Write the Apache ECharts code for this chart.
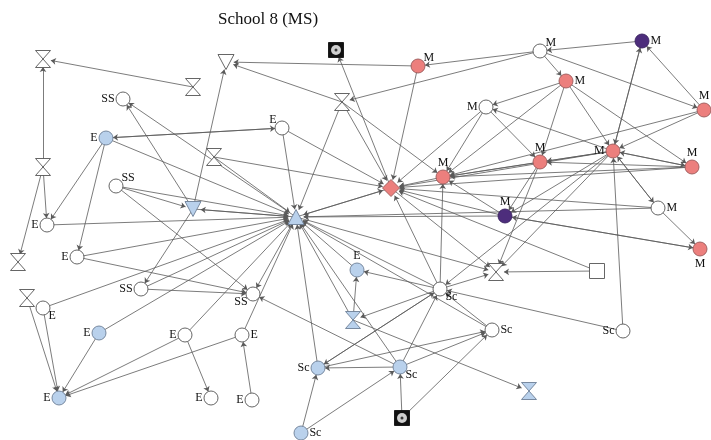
<!DOCTYPE html>
<html>
<head>
<meta charset="utf-8">
<script src="https://cdn.jsdelivr.net/npm/echarts@6/dist/echarts.min.js"></script>
<style>html,body{margin:0;padding:0;background:#fff}#c{width:711px;height:440px}</style>
</head>
<body>
<div id="c"></div>
<script>
// ---- data ----
const titleText = 'School 8 (MS)';
// node ids 1..52
const nodeX = [43,193,226,336,418,540,642,566,486,704,342,123,106,282,43,214,116,193,296,391,443,540,613,692,505,658,47,77,18,700,357,496,597,141,253,440,27,43,353,99,185,242,492,623,318,400,529,59,211,252,402,301];
const nodeY = [59,87,62,50,66,51,41,81,107,110,102,99,138,128,167,157,186,209,217,188,177,162,151,167,216,208,225,257,262,249,270,272,271,289,294,289,298,308,320,333,335,335,330,331,368,367,391,398,398,400,418,433];
const nodeLabel = ['','','','','M','M','M','M','M','M','','SS','E','E','','','SS','','','','M','M','M','M','M','M','E','E','','M','E','','','SS','SS','Sc','','E','','E','E','E','Sc','Sc','Sc','Sc','','E','E','E','','Sc'];
// shape kind: c=circle, h=hourglass, td=triangle down, tu=triangle up, d=diamond, s=square, b=boxed dot
const nodeShape = ['h','h','td','b','c','c','c','c','c','c','h','c','c','c','h','h','c','td','tu','d','c','c','c','c','c','c','c','c','h','c','c','h','s','c','c','c','h','c','h','c','c','c','c','c','c','c','h','c','c','c','b','c'];
// fill class: w=white, b=blue, r=red, p=purple, k=black
const nodeFill = ['w','w','w','k','r','w','p','r','w','r','w','w','b','w','w','w','w','b','b','r','r','r','r','r','p','w','w','w','w','r','b','w','w','w','w','w','w','w','b','b','w','w','w','w','b','b','b','b','w','w','k','b'];
const labelSide = ['','','','','tr','tr','r','r','l','t','','l','l','tl','','','tr','','','','t','t','l','t','t','r','l','l','','b','t','','','l','bl','br','','br','','l','l','r','r','l','l','br','','l','l','l','','r'];
const edges = [
 [2,1],[15,1],[15,27],[15,29],[13,27],[13,28],[14,13],[13,14],[13,19],
 [19,12],[18,12],[16,20],[16,19],[17,18],[17,19],[17,35],[27,19],[28,19],[28,35],
 [34,19],[34,35],[18,34],[38,19],[37,48],[38,48],[40,48],[40,19],[41,48],[42,48],[41,49],[41,19],[42,19],[50,42],
 [18,3],[11,3],[5,3],[11,19],[11,21],[11,20],[6,11],[20,4],[5,20],[14,19],[14,20],[18,19],[19,18],
 [19,20],[20,19],[26,19],[25,19],[36,19],[31,19],[39,19],[46,19],[45,19],[43,19],
 [44,36],[44,23],[33,32],[33,20],[36,32],[36,21],[36,31],[36,20],[36,45],[46,36],[43,36],
 [46,45],[52,45],[52,46],[51,46],[51,43],[45,43],[46,43],[39,31],[39,47],[36,39],[19,35],[46,35],
 [7,6],[6,5],[6,8],[6,10],[7,23],[23,7],[10,7],[8,9],[8,21],[8,22],[8,23],[8,24],
 [23,9],[10,21],[10,23],[9,21],[9,20],[9,22],[22,21],[23,21],[24,21],[23,22],[24,22],[23,24],[24,23],
 [26,23],[23,26],[26,30],[25,30],[30,25],[22,25],[23,25],[25,21],[22,32],[23,32],[23,36],[23,20],
 [21,20],[25,20],[26,20],[24,20],[19,32],[45,36],[20,32]
];

// ---- styles ----
const fills = {w:'#ffffff', b:'#b9d1ec', r:'#ec7f7d', p:'#4d2d7c', k:'#111111'};
const borders = {w:'#555555', b:'#6d7f96', r:'#9a5a5a', p:'#3a2360', k:'#111111'};
const hourglass = 'path://M0,0L14,0L0,17L14,17Z';
function shapeStyle(s){
  switch(s){
    case 'c': return {symbol:'circle', symbolSize:14};
    case 'h': return {symbol:hourglass, symbolSize:[15,17]};
    case 'td': return {symbol:'triangle', symbolSize:[16,15], symbolRotate:180};
    case 'tu': return {symbol:'triangle', symbolSize:[16,15]};
    case 'd': return {symbol:'diamond', symbolSize:[17,17]};
    case 's': return {symbol:'rect', symbolSize:[15,15]};
    case 'b': return {symbol:'rect', symbolSize:[15,15]};
  }
}
function labelStyle(side){
  const base = {show: !!side, color:'#111', fontFamily:'Liberation Serif, DejaVu Serif, serif', fontSize:12, distance:1};
  const m = {l:{position:'left'}, r:{position:'right'}, t:{position:'top'}, b:{position:'bottom'},
    tr:{position:'right', offset:[-3,-8]}, tl:{position:'left', offset:[3,-8]},
    br:{position:'right', offset:[-3,8]}, bl:{position:'left', offset:[3,8]}};
  return Object.assign(base, m[side] || {});
}

const nodes = nodeX.map((x,i)=>Object.assign({
  name: 'n'+(i+1),
  value: [x, nodeY[i]],
  itemStyle: {color: fills[nodeFill[i]], borderColor: borders[nodeFill[i]], borderWidth: 0.9},
  label: Object.assign(labelStyle(labelSide[i]), {formatter: nodeLabel[i]})
}, shapeStyle(nodeShape[i])));

const links = edges.map(e=>({source:'n'+e[0], target:'n'+e[1]}));

const boxPts = [];
nodeShape.forEach((s,i)=>{ if(s==='b') boxPts.push([nodeX[i], nodeY[i]]); });

const chart = echarts.init(document.getElementById('c'));
chart.setOption({
  backgroundColor:'#ffffff',
  animation:false,
  title:{text:titleText, left:263, top:6, textAlign:'center',
    textStyle:{fontFamily:'Liberation Serif, DejaVu Serif, serif', fontWeight:'normal', fontSize:17, color:'#111'}},
  grid:{left:0, right:0, top:0, bottom:0},
  xAxis:{type:'value', min:0, max:711, show:false},
  yAxis:{type:'value', min:0, max:440, inverse:true, show:false},
  series:[
    {
      type:'graph', coordinateSystem:'cartesian2d', layout:'none',
      data: nodes, links: links,
      edgeSymbol:['none','arrow'], edgeSymbolSize:[0,5],
      lineStyle:{color:'#5a5a5a', width:0.8, opacity:1, curveness:0},
      emphasis:{disabled:true},
      z:2
    },
    {
      type:'scatter', data: boxPts, symbol:'circle', symbolSize:10,
      itemStyle:{color:'#fff'}, silent:true, z:5
    },
    {
      type:'scatter', data: boxPts, symbol:'circle', symbolSize:3,
      itemStyle:{color:'#111'}, silent:true, z:6
    }
  ]
});
</script>
</body>
</html>
